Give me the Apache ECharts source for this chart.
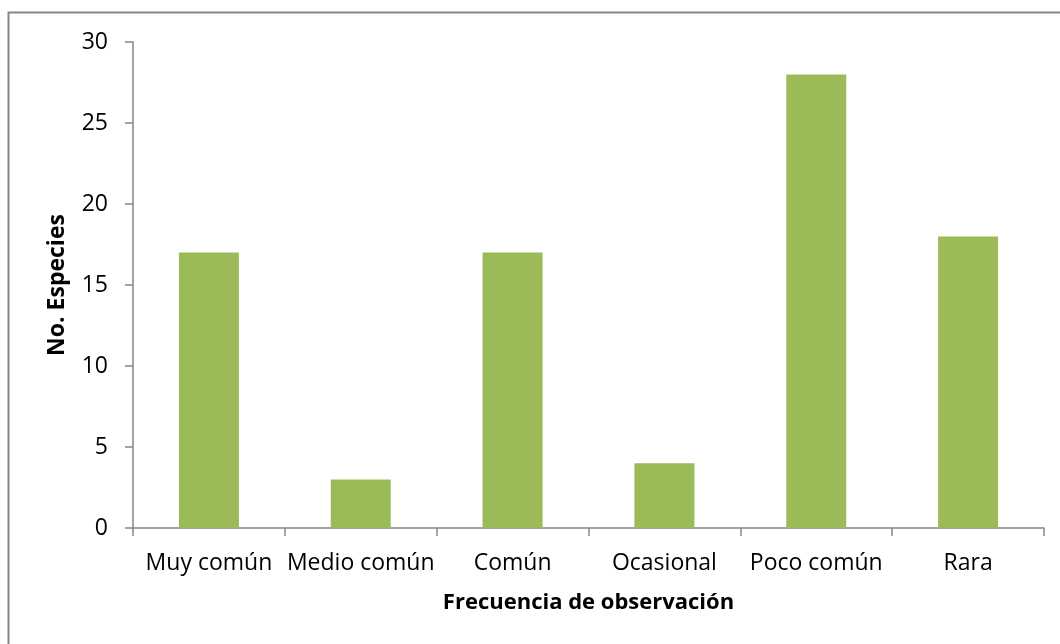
<!DOCTYPE html>
<html><head><meta charset="utf-8">
<script src="https://cdn.jsdelivr.net/npm/echarts@6/dist/echarts.min.js"></script>
<style>html,body{margin:0;padding:0;background:#fff}#c{width:1060px;height:644px}</style>
</head><body><div id="c"></div>
<script>
const categories = ["Muy común", "Medio común", "Común", "Ocasional", "Poco común", "Rara"];
const values = [17, 3, 17, 4, 28, 18];
const yTitle = "No. Especies";
const xTitle = "Frecuencia de observación";

const FONT = "Open Sans";
const chart = echarts.init(document.getElementById('c'), null, {renderer: 'canvas'});
chart.setOption({
  animation: false,
  backgroundColor: '#fff',
  graphic: [{
    type: 'rect', shape: {x: 8.5, y: 12.5, width: 1200, height: 800},
    style: {fill: 'none', stroke: '#868686', lineWidth: 2}, silent: true
  }],
  grid: {left: 133, right: 16, top: 42, bottom: 116},
  xAxis: {
    type: 'category', data: categories,
    name: xTitle, nameLocation: 'middle', nameGap: 64,
    nameTextStyle: {fontFamily: FONT, fontWeight: 'bold', fontSize: 22, color: '#000'},
    axisLine: {lineStyle: {color: '#868686', width: 1.5}},
    axisTick: {show: true, length: 8, lineStyle: {color: '#868686', width: 1.5}},
    axisLabel: {fontFamily: FONT, fontSize: 23, color: '#000', margin: 24, interval: 0}
  },
  yAxis: {
    type: 'value', min: 0, max: 30, interval: 5,
    name: yTitle, nameLocation: 'middle', nameGap: 64, nameRotate: 90,
    nameTextStyle: {fontFamily: FONT, fontWeight: 'bold', fontSize: 23, color: '#000'},
    axisLine: {show: true, lineStyle: {color: '#868686', width: 1.5}},
    axisTick: {show: true, length: 8, lineStyle: {color: '#868686', width: 1.5}},
    splitLine: {show: false},
    axisLabel: {fontFamily: FONT, fontSize: 23, color: '#000', margin: 25}
  },
  series: [{
    type: 'bar', data: values, barWidth: 60,
    itemStyle: {color: '#9BBB59'}
  }]
});
</script></body></html>
